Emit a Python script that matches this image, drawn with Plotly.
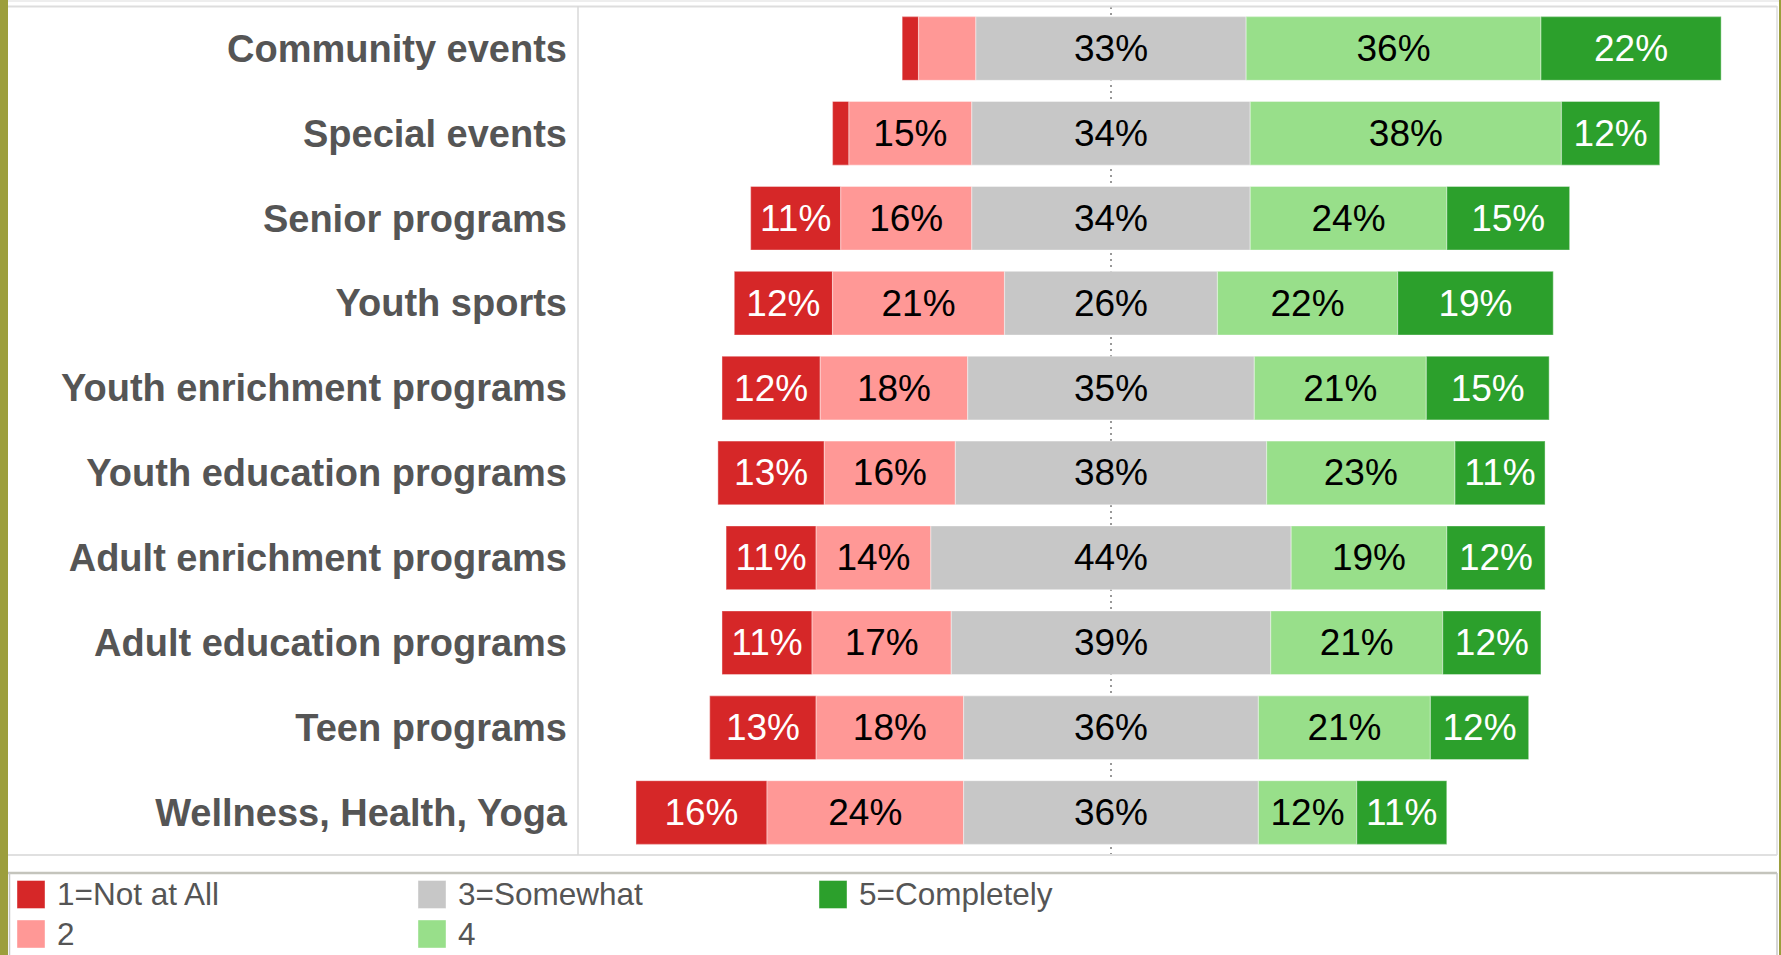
import plotly.graph_objects as go

# ---------------- data ----------------
categories = [
    "Community events", "Special events", "Senior programs", "Youth sports",
    "Youth enrichment programs", "Youth education programs",
    "Adult enrichment programs", "Adult education programs",
    "Teen programs", "Wellness, Health, Yoga",
]
level_names = ["1=Not at All", "2", "3=Somewhat", "4", "5=Completely"]
r1 = [2, 2, 11, 12, 12, 13, 11, 11, 13, 16]
r2 = [7, 15, 16, 21, 18, 16, 14, 17, 18, 24]
r3 = [33, 34, 34, 26, 35, 38, 44, 39, 36, 36]
r4 = [36, 38, 24, 22, 21, 23, 19, 21, 21, 12]
r5 = [22, 12, 15, 19, 15, 11, 12, 12, 12, 11]
levels = [r1, r2, r3, r4, r5]

# ---------------- style ----------------
colors = ["#d62728", "#ff9896", "#c7c7c7", "#98df8a", "#2ca02c"]
text_colors = ["#ffffff", "#000000", "#000000", "#000000", "#ffffff"]
FONT = "Liberation Sans, Arial, sans-serif"
W, H = 1781, 955
PL, PR, PT, PB = 578, 1777, 6, 855  # plot area in pixels
PX_PER_PCT = 8.19
CENTER_PX = 1111

def px_x(px):
    return (px - PL) / (PR - PL)

def px_y(py):
    return (PB - py) / (PB - PT)

fig = go.Figure()

# diverging bases: neutral category centred on 0
starts = [-(a + b + c / 2.0) for a, b, c in zip(r1, r2, r3)]
cum = list(starts)
for k, vals in enumerate(levels):
    texts = [f"{v}%" if v >= 10 else "" for v in vals]
    fig.add_trace(go.Bar(
        y=categories, x=vals, base=list(cum), orientation="h",
        name=level_names[k], showlegend=False,
        marker=dict(color=colors[k], line=dict(color="rgba(255,255,255,0.35)", width=1.2)),
        text=texts, textposition="inside", insidetextanchor="middle", textangle=0,
        textfont=dict(family=FONT, size=37, color=text_colors[k]),
        hovertemplate="%{y}: %{x}%<extra>" + level_names[k] + "</extra>",
    ))
    cum = [c + v for c, v in zip(cum, vals)]

x_left = -(CENTER_PX - PL) / PX_PER_PCT
x_right = (PR - CENTER_PX) / PX_PER_PCT

shapes = []
# centre dotted line (behind bars)
shapes.append(dict(type="line", xref="x", yref="paper", x0=0, x1=0, y0=0, y1=1,
                   line=dict(color="#777777", width=1.5, dash="2px,4px"), layer="below"))

def hline(py, x0, x1, color, width):
    shapes.append(dict(type="line", xref="paper", yref="paper",
                       x0=px_x(x0), x1=px_x(x1), y0=px_y(py), y1=px_y(py),
                       line=dict(color=color, width=width)))

def vline(px, y0, y1, color, width):
    shapes.append(dict(type="line", xref="paper", yref="paper",
                       x0=px_x(px), x1=px_x(px), y0=px_y(y0), y1=px_y(y1),
                       line=dict(color=color, width=width)))

hline(1, 8, W, "#eeeeee", 2)
hline(6.5, 8, 1777, "#dddddd", 2)
hline(855, 8, 1777, "#e0e0e0", 2)
vline(1777, 6, 855, "#dddddd", 1.5)
vline(578, 6, 855, "#d9d9d9", 1.5)
# legend box
hline(873, 8, 1777, "#c4c4bc", 2.5)
vline(9.5, 873, H, "#c8c8c8", 1.5)
vline(1777, 873, H, "#c8c8c8", 1.5)
# olive side bars
shapes.append(dict(type="rect", xref="paper", yref="paper", x0=px_x(0), x1=px_x(8),
                   y0=px_y(H), y1=px_y(0), fillcolor="#9c9e3c", line=dict(width=0)))
shapes.append(dict(type="rect", xref="paper", yref="paper", x0=px_x(1779), x1=px_x(W),
                   y0=px_y(H), y1=px_y(0), fillcolor="#9c9e3c", line=dict(width=0)))

# manual legend (column-major like the original)
annotations = []
leg_cols = [17, 17, 418, 418, 819]
leg_rows = [894.5, 934, 894.5, 934, 894.5]
for k, name in enumerate(level_names):
    x0 = leg_cols[k]
    yc = leg_rows[k]
    shapes.append(dict(type="rect", xref="paper", yref="paper",
                       x0=px_x(x0), x1=px_x(x0 + 28), y0=px_y(yc + 14), y1=px_y(yc - 14),
                       fillcolor=colors[k], line=dict(color="rgba(255,255,255,0.4)", width=1)))
    annotations.append(dict(xref="paper", yref="paper", x=px_x(x0 + 38), y=px_y(yc),
                            xanchor="left", yanchor="middle", showarrow=False, text=name,
                            font=dict(family=FONT, size=31.5, color="#555555")))

fig.update_layout(
    width=W, height=H,
    margin=dict(l=PL, r=W - PR, t=PT, b=H - PB, pad=0),
    paper_bgcolor="#ffffff", plot_bgcolor="#ffffff",
    barmode="overlay", bargap=0.25,
    showlegend=False,
    uniformtext=dict(minsize=37, mode="show"),
    shapes=shapes, annotations=annotations,
    xaxis=dict(range=[x_left, x_right], visible=False, fixedrange=True),
    yaxis=dict(type="category", categoryorder="array", categoryarray=categories,
               range=[len(categories) - 0.5, -0.5], showgrid=False, zeroline=False,
               showline=False, ticks="", ticklabelstandoff=10,
               tickfont=dict(family=FONT, size=38, color="#555555", weight="bold")),
)

fig.write_html("out.html", config={"displayModeBar": False},
               post_script="document.body.style.margin='0px';document.body.style.overflow='hidden';")
